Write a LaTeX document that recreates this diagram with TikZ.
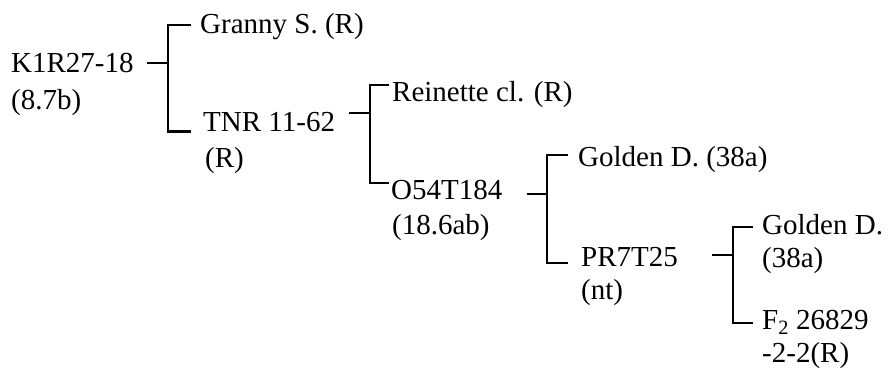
\documentclass[tikz,border=0pt]{standalone}
\usepackage{fontspec}
\setmainfont{Liberation Serif}
\begin{document}
\begin{tikzpicture}[x=1pt,y=-1pt,
  lbl/.style={anchor=west,inner sep=0pt,text height=19pt,text depth=0pt,
    font=\fontsize{29}{35}\selectfont},
  br/.style={line width=2.2pt,line cap=rect}]
\useasboundingbox (0,0) rectangle (889,371);

% labels
\node[lbl] (k1)   at (11,63)   {K1R27-18};
\node[lbl] (k1b)  at (11,100)  {(8.7b)};
\node[lbl] (gs)   at (200,24)  {Granny S. (R)};
\node[lbl] (tnr)  at (203,122) {TNR 11-62};
\node[lbl] (tnrb) at (205,158) {(R)};
\node[lbl] (rc)   at (392,92)  {Reinette cl. (R)};
\node[lbl] (o54)  at (391,190) {O54T184};
\node[lbl] (o54b) at (392,225) {(18.6ab)};
\node[lbl] (gd1)  at (578,157) {Golden D. (38a)};
\node[lbl] (pr)   at (581,257) {PR7T25};
\node[lbl] (prb)  at (581,290) {(nt)};
\node[lbl] (gd2)  at (762,225) {Golden D.};
\node[lbl] (gd2b) at (762,258) {(38a)};
\node[lbl] (f2)   at (762,320) {F\textsubscript{2} 26829};
\node[lbl] (f2b)  at (762,353) {-2-2(R)};

% spine positions
\coordinate (j1) at (168,0);
\coordinate (j2) at (370,0);
\coordinate (j3) at (547,0);
\coordinate (j4) at (733,0);

% K1R27-18
\draw[br] ([xshift=-20pt]k1.east -| j1) -- (k1.east -| j1);
\draw[br] ([xshift=-10pt,yshift=-1pt]gs.west) -- ([yshift=-1pt]gs.west -| j1)
  -- (tnr.base -| j1) -- ([xshift=-13pt]tnr.base west);

% TNR 11-62
\draw[br] ([xshift=-20pt,yshift=9pt]tnr.east -| j2) -- ([yshift=9pt]tnr.east -| j2);
\draw[br] ([xshift=-4pt,yshift=7pt]rc.west) -- ([yshift=7pt]rc.west -| j2)
  -- ([yshift=7pt]o54.west -| j2) -- ([xshift=-3pt,yshift=7pt]o54.west);

% O54T184
\draw[br] ([xshift=-19pt,yshift=-4pt]o54.east -| j3) -- ([yshift=-4pt]o54.east -| j3);
\draw[br] ([xshift=-11pt,yshift=2pt]gd1.west) -- ([yshift=2pt]gd1.west -| j3)
  -- ([yshift=-6pt]pr.west -| j3) -- ([xshift=-14pt,yshift=-6pt]pr.west);

% PR7T25
\draw[br] ([xshift=-20pt,yshift=2pt]pr.east -| j4) -- ([yshift=2pt]pr.east -| j4);
\draw[br] ([xshift=-10pt,yshift=-2pt]gd2.west) -- ([yshift=-2pt]gd2.west -| j4)
  -- ([yshift=-3pt]f2.west -| j4) -- ([xshift=-10pt,yshift=-3pt]f2.west);
\end{tikzpicture}
\end{document}
